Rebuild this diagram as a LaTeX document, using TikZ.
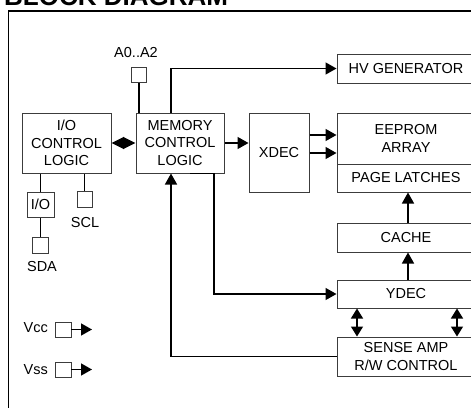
\documentclass[tikz,border=0pt]{standalone}
\usepackage{fontspec}
\setmainfont{Liberation Sans}
\usetikzlibrary{positioning, calc, arrows.meta}
\definecolor{boxline}{RGB}{60,60,60}
\tikzset{
  every node/.style={font=\fontsize{14.5}{17.5}\selectfont, text=black},
  blk/.style={draw=boxline, line width=1pt, align=center, inner sep=0pt},
  pin/.style={draw=boxline, line width=0.8pt, minimum width=15pt, minimum height=15pt, inner sep=0pt},
  wire/.style={draw=black, line width=1.5pt},
  pinlab/.style={inner sep=0pt},
  >={Triangle[length=11pt, width=12pt]},
}

\begin{document}
\begin{tikzpicture}[x=1pt, y=-1pt]
  \clip (0,0) rectangle (471,407);
  % ---- title and frame ------------------------------------------------------
  \node[anchor=base west, inner sep=0pt, font=\bfseries\fontsize{26}{30}\selectfont] (title) at (4,5) {BLOCK DIAGRAM};
  \draw[line width=1.3pt] (8.5,11) rectangle (490,430);

  % ---- control blocks ---------------------------------------------------------
  \node[blk, minimum width=89pt, minimum height=60pt] (io) at (66.5,143) {I/O\\CONTROL\\LOGIC};
  \node[blk, minimum width=88pt, minimum height=60pt] (mem) at (180,143) {MEMORY\\CONTROL\\LOGIC};
  \node[blk, minimum width=60pt, minimum height=79pt] (xdec) at (279,152.5) {XDEC};

  % ---- right column: array path ---------------------------------------------
  \node[blk, minimum width=138pt, minimum height=29pt] (hv) at (406,68.5) {HV GENERATOR};
  \node[blk, minimum width=138pt, minimum height=51pt] (eeprom) at (406,138.5) {EEPROM\\ARRAY};
  \node[blk, minimum width=138pt, minimum height=28pt] (latch) at (406,178) {PAGE LATCHES};
  \node[blk, minimum width=138pt, minimum height=29pt] (cache) at (406,237.5) {CACHE};
  \node[blk, minimum width=138pt, minimum height=28pt] (ydec) at (406,294) {YDEC};
  \node[blk, minimum width=138pt, minimum height=39pt] (sense) at (406,356.5) {SENSE AMP\\R/W CONTROL};

  % ---- pins ---------------------------------------------------------------
  \node[pin] (a0pin) at (139,75) {};
  \node[pinlab] (a0lab) at (136,53) {A0..A2};
  \node[blk, minimum width=27pt, minimum height=25pt] (iobuf) at (40.5,204.5) {I/O};
  \node[pin, minimum width=16pt, minimum height=16pt] (sdapin) at (40.5,245) {};
  \node[pinlab] (sdalab) at (42,267) {SDA};
  \node[pin, minimum height=16pt] (sclpin) at (84.5,199) {};
  \node[pinlab] (scllab) at (85,223) {SCL};
  \node[pin, minimum width=16pt] (vccpin) at (63,329.5) {};
  \node[pinlab, anchor=east] (vcclab) at (48,328) {Vcc};
  \node[pin, minimum width=16pt] (vsspin) at (63,369.5) {};
  \node[pinlab, anchor=east] (vsslab) at (48,370) {Vss};
  \coordinate (vccend) at (92,329.5);
  \coordinate (vssend) at (92,369.5);

  % ---- connections --------------------------------------------------------
  \draw[wire] (a0pin.south) -- (a0pin.south |- mem.north);
  \draw[wire, ->] ($(mem.north)+(-9,0)$) |- (hv.west);
  \draw[wire, ->] (mem.east) -- (mem.east -| xdec.west);
  \draw[wire, ->] ($(xdec.east)+(0,-17.5)$) -- ($(xdec.east -| eeprom.west)+(0,-17.5)$);
  \draw[wire, ->] ($(xdec.east)+(0,0.5)$) -- ($(xdec.east -| eeprom.west)+(0,0.5)$);
  \draw[wire, <->, >={Triangle[length=12.5pt, width=12pt]}] (io.east) -- (mem.west);
  \draw[wire] (iobuf.north |- io.south) -- (iobuf.north);
  \draw[wire] (iobuf.south) -- (sdapin.north);
  \draw[wire] (sclpin.north |- io.south) -- (sclpin.north);
  \draw[wire, ->] ($(mem.south)+(10,0)$) -- ($(mem.south)+(34,0)$) |- (ydec.west);
  \draw[wire, ->] (sense.west) -| ($(mem.south)+(-9,0)$);
  \draw[wire, ->] ($(cache.north)+(2,0)$) -- ($(latch.south)+(2,0)$);
  \draw[wire, ->] ($(ydec.north)+(2,0)$) -- ($(cache.south)+(2,0)$);
  \draw[wire, <->, >={Triangle[length=10pt, width=12pt]}] ($(ydec.south)+(-49,0)$) -- ($(sense.north)+(-49,0)$);
  \draw[wire, <->, >={Triangle[length=10pt, width=12pt]}] ($(ydec.south)+(51,0)$) -- ($(sense.north)+(51,0)$);
  \draw[wire, ->] (vccpin.east) -- (vccend);
  \draw[wire, ->] (vsspin.east) -- (vssend);
\end{tikzpicture}
\end{document}
